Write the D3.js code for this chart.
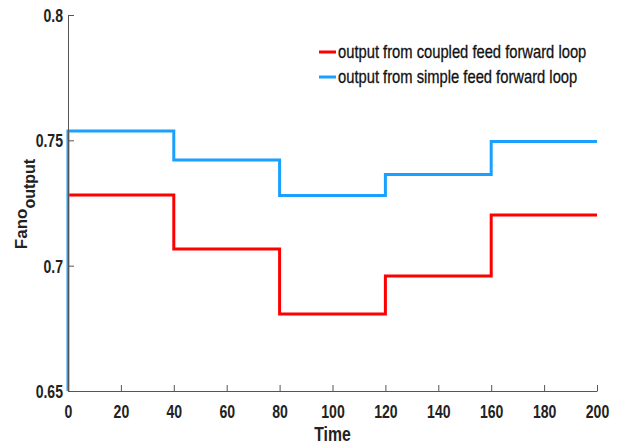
<!DOCTYPE html>
<html lang="en">
<head>
    <meta charset="UTF-8">
    <title>Fano output</title>
    <script src="https://cdn.jsdelivr.net/npm/d3@7"></script>
    <style>
        body { margin: 0; background: #fff; }
        text { font-family: "Liberation Sans", Arial, sans-serif; }
    </style>
</head>
<body>

<script>

    const width = 617;
    const height = 447;
    const margin = {top: 15, right: 20, bottom: 56, left: 68};

    // step values, each held over a 40-unit interval
    const times = [0, 40, 80, 120, 160, 200];
    const coupled = [0.7282, 0.7066, 0.6807, 0.6959, 0.7202];
    const simple = [0.7537, 0.7422, 0.7280, 0.7364, 0.7495];
    const x_ticks = [0, 20, 40, 60, 80, 100, 120, 140, 160, 180, 200];
    const y_ticks = [0.65, 0.7, 0.75, 0.8];
    const legend_labels = ["output from coupled feed forward loop", "output from simple feed forward loop"];
    const colors = ["#ff0000", "#1aa0ff"];

    const x = d3.scaleLinear().domain([0, 200]).range([margin.left, width - margin.right]);
    const y = d3.scaleLinear().domain([0.65, 0.8]).range([height - margin.bottom, margin.top]);

    const svg = d3.select("body").append("svg").attr("width", width).attr("height", height);

    let to_points = values => {
        const pts = values.map((v, i) => [times[i], v]);
        pts.push([times[times.length - 1], values[values.length - 1]]);
        return pts;
    };

    const line = d3.line()
        .x(d => x(d[0]))
        .y(d => y(d[1]))
        .curve(d3.curveStepAfter);

    // red first, blue on top (blue starts from the bottom of the axis)
    svg.append("path")
        .attr("fill", "none")
        .attr("stroke", colors[0])
        .attr("stroke-width", 3)
        .attr("d", line(to_points(coupled)));

    svg.append("path")
        .attr("fill", "none")
        .attr("stroke", colors[1])
        .attr("stroke-width", 3)
        .attr("d", line([[0, 0.65]].concat(to_points(simple))));

    const x_axis = svg.append("g")
        .attr("transform", `translate(0, ${y(0.65)})`)
        .call(d3.axisBottom(x).tickValues(x_ticks).tickSizeInner(-6).tickSizeOuter(0).tickPadding(14));

    const y_axis = svg.append("g")
        .attr("transform", `translate(${x(0)}, 0)`)
        .call(d3.axisLeft(y).tickValues(y_ticks).tickFormat(d3.format("")).tickSizeInner(-6).tickSizeOuter(0).tickPadding(7));

    // narrow tall bold digits, like the original
    [x_axis, y_axis].forEach(g => {
        g.select(".domain").attr("stroke", "#555");
        g.selectAll(".tick line").attr("stroke", "#555");
        g.selectAll(".tick text")
            .attr("font-size", 19)
            .attr("font-weight", "bold")
            .attr("fill", "#222")
            .attr("transform", "scale(0.74, 1)");
    });
    y_axis.selectAll(".tick text").attr("dy", "0.35em").attr("x", -5 / 0.74);

    svg.append("text")
        .attr("transform", `translate(${(x(0) + x(200)) / 2}, 441) scale(0.75, 1)`)
        .attr("text-anchor", "middle")
        .attr("font-size", 21)
        .attr("font-weight", "bold")
        .attr("fill", "#222")
        .text("Time");

    const y_label = svg.append("text")
        .attr("transform", "translate(27, 204) rotate(-90)")
        .attr("text-anchor", "middle")
        .attr("font-weight", "bold")
        .attr("fill", "#222");
    y_label.append("tspan").attr("font-size", 17).text("Fano");
    y_label.append("tspan").attr("font-size", 16).attr("dy", 8).text("output");

    const legend = svg.append("g")
        .selectAll("g")
        .data(legend_labels)
        .join("g")
        .attr("transform", (d, i) => `translate(319, ${52 + i * 25})`);

    legend.append("line")
        .attr("x1", 0).attr("x2", 17)
        .attr("stroke", (d, i) => colors[i])
        .attr("stroke-width", 3);

    legend.append("text")
        .attr("transform", "translate(19, 0) scale(0.82, 1)")
        .attr("dy", "0.35em")
        .attr("font-size", 18)
        .attr("fill", "#111")
        .attr("stroke", "#111")
        .attr("stroke-width", 0.3)
        .text(d => d);

</script>

</body>
</html>
